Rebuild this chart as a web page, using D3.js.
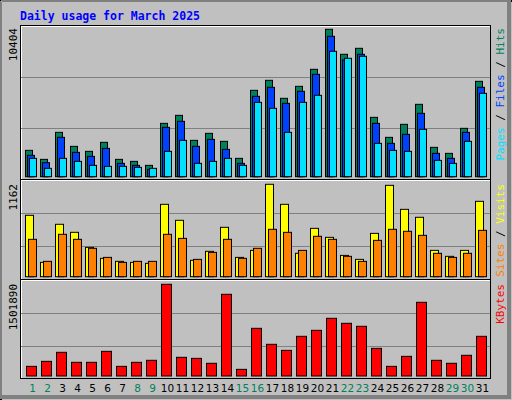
<!DOCTYPE html>
<html><head><meta charset="utf-8">
<script src="https://cdn.jsdelivr.net/npm/d3@7"></script>
<style>body{margin:0;background:#fff}svg{display:block}</style></head>
<body><svg id="c" width="512" height="400"></svg>
<script>
const days = d3.range(1,32);
const weekend = [1,2,8,9,15,16,22,23,29,30];
const hits  = [1860,1224,3131,2142,1789,2425,1224,1083,800,3766,4331,2566,3060,2495,1295,6097,6803,5532,6379,7580,10404,8639,9063,4190,2778,3696,5108,2072,1648,3413,6732];
const files = [1507,989,2778,1718,1436,2001,942,800,518,3484,3908,2142,2636,1930,942,5673,6309,5179,6026,7227,9910,8239,8639,3766,2354,2990,4473,1648,1295,3131,6309];
const pages = [1295,589,1295,1083,800,730,730,659,589,1789,2566,942,1083,1295,800,5249,4826,3131,5249,5744,8851,8357,8498,2354,1860,1789,3343,1153,942,2495,5885];
const visits= [772,180,659,558,369,231,193,180,168,910,709,206,319,621,243,331,1162,910,294,608,495,268,218,545,1149,847,747,331,256,331,948];
const sites = [470,193,533,470,357,243,180,193,193,533,482,218,306,470,231,357,596,558,331,508,470,256,193,457,596,571,520,294,243,294,583];
const kbytes= [158000,240000,388000,224000,224000,404000,158000,224000,257000,1501890,306000,289000,208000,1338000,109000,781000,519000,420000,650000,748000,945000,863000,814000,453000,158000,322000,1207000,257000,208000,339000,650000];
const maxLabels = ["10404","1162","1501890"];

const svg = d3.select("#c");
// background with bevel
svg.append("rect").attr("x",0).attr("y",0).attr("width",512).attr("height",400).attr("fill","#c0c0c0");
svg.append("path").attr("d","M507,2 L507,395 L2,395 L2,399 L511,399 L511,2Z").attr("fill","#808080");
svg.append("path").attr("d","M0,0 H512 V2 H2 V400 H0Z").attr("fill","#000");
svg.append("path").attr("d","M1,1 H511 M1,1 V399").attr("stroke","#fff");
svg.append("text").attr("x",20).attr("y",20).text("Daily usage for March 2025")
  .attr("font-family","DejaVu Sans Mono").attr("font-weight","bold").attr("font-size","11.5px").attr("fill","#0000ff");

const x = d3.scaleLinear().domain([1,31]).range([25,475]);
// panel frame
svg.append("rect").attr("x",20.5).attr("y",25.5).attr("width",470).attr("height",353).attr("fill","none").attr("stroke","#000");
svg.append("path").attr("d","M21,26.5 H490 M21.5,26 V378").attr("stroke","#fff");
svg.append("path").attr("d","M21,179.5 H490 M21,279.5 H490").attr("stroke","#000");
svg.append("path").attr("d","M21,180.5 H490 M21,280.5 H490").attr("stroke","#fff");
svg.append("path").attr("d","M490.5,26 V378").attr("stroke","#000");

const panels = [
  {y:d3.scaleLinear().domain([0,10404]).range([176.7,29.3]), g:[100,49], lab:28},
  {y:d3.scaleLinear().domain([0,1162]).range([276.7,184.3]), g:[63.4,30.4], lab:184},
  {y:d3.scaleLinear().domain([0,1501890]).range([376,284.3]), g:[62.7,30], lab:284}
];
panels.forEach((p,i)=>{
  p.g.forEach(o=>{
    const yy = Math.round(p.y(0)-o)+0.5;
    svg.append("line").attr("x1",21).attr("x2",490).attr("y1",yy).attr("y2",yy).attr("stroke","#808080");
  });
  svg.append("text").attr("transform",`translate(17,${p.lab}) rotate(-90)`).attr("text-anchor","end")
    .attr("font-family","DejaVu Sans Mono").attr("font-size","11px").text(maxLabels[i]);
});

function bars(data, p, off, w, color){
  svg.append("g").selectAll("rect").data(data).join("rect")
    .attr("x",(d,i)=>Math.round(x(days[i]))+off+0.5)
    .attr("y",d=>p.y(d))
    .attr("width",w).attr("height",d=>p.y(0)-p.y(d))
    .attr("fill",color).attr("stroke","#000").attr("stroke-width",1);
}
bars(hits,panels[0],0,7,"#00805c");
bars(files,panels[0],2,7,"#0040ff");
bars(pages,panels[0],4,7,"#00e0ff");
bars(visits,panels[1],0,8,"#ffff00");
bars(sites,panels[1],3,8,"#ff8000");
bars(kbytes,panels[2],1,10,"#ff0000");

svg.append("g").selectAll("text").data(days).join("text")
  .attr("x",d=>x(d)+7.5).attr("y",392).attr("text-anchor","middle")
  .attr("font-family","DejaVu Sans").attr("font-size","10.5px")
  .attr("fill",d=>weekend.includes(d)?"#00805c":"#000").text(d=>d);

function rlabel(y, parts){
  const t = svg.append("text").attr("transform",`translate(504,${y}) rotate(-90)`).attr("text-anchor","end")
    .attr("font-family","DejaVu Sans Mono").attr("font-size","11px");
  parts.forEach(([s,c])=>t.append("tspan").attr("fill",c).text(s));
}
rlabel(28,[["Pages","#00e0ff"],[" / ","#000"],["Files","#0040ff"],[" / ","#000"],["Hits","#00805c"]]);
rlabel(184,[["Sites","#ff8000"],[" / ","#000"],["Visits","#ffff00"]]);
rlabel(284,[["KBytes","#ff0000"]]);
</script></body></html>
